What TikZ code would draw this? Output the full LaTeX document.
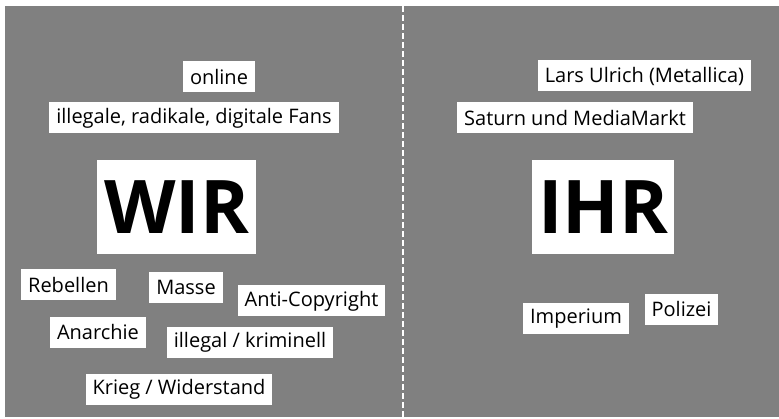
\documentclass[tikz,border=0pt]{standalone}
\usepackage{fontspec}
\setmainfont{Open Sans}
\definecolor{panel}{HTML}{808080}
\tikzset{
  tag/.style={fill=white, inner xsep=7pt, inner ysep=0pt, minimum height=31pt,
    font=\fontsize{20}{23}\selectfont},
  bigtag/.style={fill=white, minimum height=94pt, inner sep=0pt,
    font=\fontsize{74}{80}\selectfont\bfseries},
}
\begin{document}
\begin{tikzpicture}[x=1pt,y=-1pt]
	\useasboundingbox (0,0) rectangle (779,419);
	\fill[panel] (5,6) rectangle (779,417);
	\coordinate (top) at (403,6);
	\coordinate (bottom) at (403,419);
	\draw[white, line width=2pt, dash pattern=on 6pt off 3pt] (top) -- (bottom);

	% wir
	\node[bigtag, minimum width=159pt] (wir) at (176.5,207) {WIR};
	\node[tag] (online) at (219,77) {online};
	\node[tag] (fans) at (194,118) {illegale, radikale, digitale Fans};
	\node[tag] (rebellen) at (68.5,285) {Rebellen};
	\node[tag] (masse) at (186,287.5) {Masse};
	\node[tag] (copyright) at (311.5,301) {Anti-Copyright};
	\node[tag] (anarchie) at (98,332.5) {Anarchie};
	\node[tag] (illegal) at (250,342.5) {illegal / kriminell};
	\node[tag] (krieg) at (179,389.5) {Krieg / Widerstand};

	% ihr
	\node[bigtag, minimum width=142pt] (ihr) at (603,207) {IHR};
	\node[tag] (ulrich) at (644.5,76) {Lars Ulrich (Metallica)};
	\node[tag] (saturn) at (575,118) {Saturn und MediaMarkt};
	\node[tag] (imperium) at (576,319) {Imperium};
	\node[tag] (polizei) at (681.5,309.5) {Polizei};
\end{tikzpicture}
\end{document}
